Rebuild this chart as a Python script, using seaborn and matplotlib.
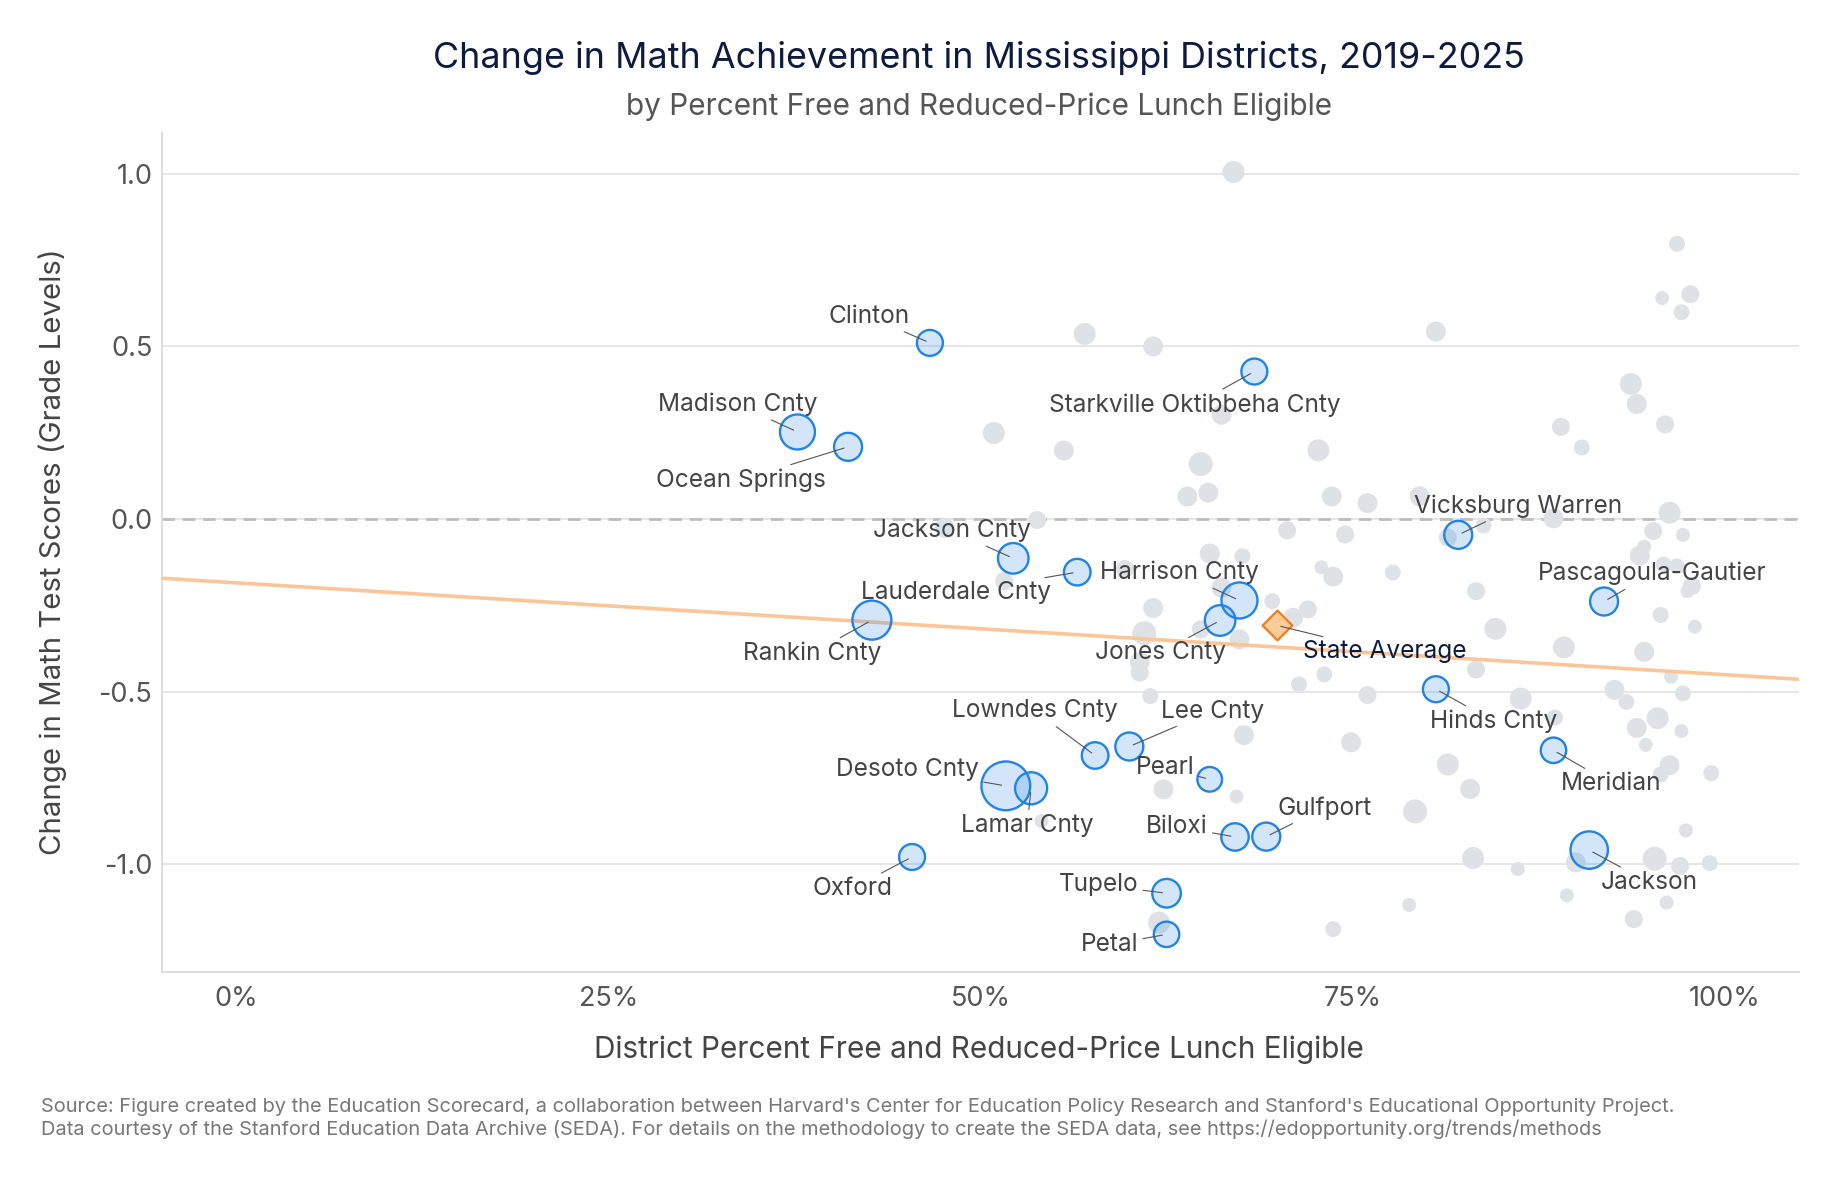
import numpy as np
import pandas as pd
import seaborn as sns
import matplotlib.pyplot as plt
from matplotlib.ticker import FuncFormatter

# ---- data -------------------------------------------------------------
# labelled districts: % FRL eligible, change in grade levels, enrollment (thousands)
names = ["Clinton", "Madison Cnty", "Ocean Springs", "Starkville Oktibbeha Cnty",
         "Jackson Cnty", "Lauderdale Cnty", "Rankin Cnty", "Harrison Cnty",
         "Jones Cnty", "Vicksburg Warren", "Pascagoula-Gautier", "Hinds Cnty",
         "Lowndes Cnty", "Lee Cnty", "Pearl", "Desoto Cnty", "Lamar Cnty",
         "Meridian", "Biloxi", "Gulfport", "Oxford", "Jackson", "Tupelo", "Petal"]
frl = [46.6, 37.7, 41.1, 68.4, 52.2, 56.5, 42.7, 67.4, 66.1, 82.1, 91.9, 80.6,
       57.7, 60.0, 65.4, 51.7, 53.4, 88.5, 67.1, 69.2, 45.4, 90.9, 62.5, 62.5]
change = [0.51, 0.252, 0.209, 0.427, -0.114, -0.154, -0.293, -0.236, -0.294, -0.046,
          -0.239, -0.493, -0.685, -0.659, -0.754, -0.773, -0.78, -0.67, -0.921, -0.92,
          -0.979, -0.959, -1.084, -1.203]
enroll = [8.5, 16.9, 10.2, 8.5, 12.5, 9.0, 21.4, 18.0, 12.5, 10.2, 10.2, 8.5,
          9.0, 10.2, 7.5, 34.5, 13.9, 8.1, 9.7, 10.2, 8.5, 19.6, 10.7, 8.1]

# all other districts
other_frl = [67.0, 57.0, 61.6, 80.6, 66.2, 50.9, 55.6, 64.8, 72.7, 63.9, 65.3, 73.6,
             76.0, 79.5, 53.8, 47.6, 70.6, 74.5, 65.4, 67.6, 72.9, 73.7, 77.7, 59.7,
             51.6, 66.2, 69.6, 72.0, 71.0, 61.6, 64.8, 61.0, 67.4, 60.7, 60.7, 73.1,
             71.4, 61.4, 67.7, 62.3, 67.2, 54.1, 62.0, 73.7, 96.8, 95.8, 97.7, 97.1,
             93.7, 94.1, 96.0, 89.0, 90.4, 81.4, 83.8, 88.5, 96.3, 95.2, 97.2, 94.6,
             94.3, 95.9, 96.8, 83.3, 84.6, 89.2, 94.6, 95.7, 98.0, 97.8, 97.5, 83.3,
             96.4, 76.0, 86.3, 92.6, 93.4, 97.2, 88.6, 95.5, 94.1, 97.1, 94.7, 74.9,
             81.4, 96.3, 95.7, 99.1, 82.9, 79.2, 97.4, 83.1, 86.1, 90.0, 95.3, 97.0,
             99.0, 89.4, 78.8, 96.1, 93.9]
other_change = [1.005, 0.536, 0.5, 0.543, 0.302, 0.249, 0.198, 0.159, 0.199, 0.065,
                0.076, 0.065, 0.046, 0.066, -0.003, -0.026, -0.033, -0.045, -0.1, -0.108,
                -0.14, -0.167, -0.155, -0.145, -0.18, -0.199, -0.238, -0.262, -0.286,
                -0.258, -0.32, -0.331, -0.349, -0.414, -0.445, -0.45, -0.479, -0.513,
                -0.626, -0.783, -0.804, -0.875, -1.169, -1.188, 0.797, 0.64, 0.651,
                0.599, 0.391, 0.333, 0.274, 0.267, 0.207, -0.054, -0.019, 0.002, 0.018,
                -0.035, -0.046, -0.08, -0.106, -0.132, -0.137, -0.209, -0.318, -0.372,
                -0.385, -0.278, -0.312, -0.194, -0.209, -0.436, -0.457, -0.51, -0.52,
                -0.495, -0.53, -0.505, -0.575, -0.577, -0.605, -0.614, -0.654, -0.647,
                -0.711, -0.713, -0.74, -0.736, -0.782, -0.847, -0.902, -0.982, -1.014,
                -0.995, -0.984, -1.005, -0.997, -1.09, -1.118, -1.111, -1.159]
other_enroll = [5.6, 5.6, 4.3, 4.3, 4.3, 5.6, 4.3, 7.0, 5.6, 4.3, 4.3, 4.3,
                4.3, 4.3, 3.2, 4.3, 3.2, 3.2, 4.3, 2.1, 1.2, 4.3, 2.1, 3.2,
                3.2, 4.3, 2.1, 3.2, 4.3, 4.3, 3.2, 7.0, 4.3, 4.3, 3.2, 2.1,
                2.1, 2.1, 4.3, 4.3, 1.2, 1.2, 5.6, 2.1, 2.1, 1.2, 3.2, 2.1,
                5.6, 4.3, 3.2, 3.2, 2.1, 3.2, 2.1, 4.3, 5.6, 3.2, 1.2, 1.2,
                4.3, 2.1, 2.1, 3.2, 5.6, 5.6, 4.3, 2.1, 1.2, 3.2, 1.2, 3.2,
                1.2, 3.2, 5.6, 4.3, 2.1, 2.1, 2.1, 5.6, 4.3, 1.2, 1.2, 4.3,
                5.6, 4.3, 2.1, 2.1, 4.3, 7.0, 1.2, 5.6, 1.2, 4.3, 7.0, 3.2,
                2.1, 1.2, 1.2, 1.2, 3.2]

state_frl = 69.9
state_change = -0.308
fit_intercept = -0.185
fit_slope = -0.00266

yticks = [-1.0, -0.5, 0.0, 0.5, 1.0]
xticks = [0, 25, 50, 75, 100]

# label placement around each point, pixels (dx, dy up)
label_offset = {
    "Clinton": (-61, 20), "Madison Cnty": (-60, 21), "Ocean Springs": (-107, -40),
    "Starkville Oktibbeha Cnty": (-60, -40), "Jackson Cnty": (-61, 21),
    "Lauderdale Cnty": (-121, -27), "Rankin Cnty": (-60, -40), "Harrison Cnty": (-60, 21),
    "Jones Cnty": (-60, -39), "Vicksburg Warren": (60, 22), "Pascagoula-Gautier": (48, 21),
    "Hinds Cnty": (58, -39), "Lowndes Cnty": (-60, 38), "Lee Cnty": (83, 29),
    "Pearl": (-45, 5), "Desoto Cnty": (-98, 10), "Lamar Cnty": (-4, -44),
    "Meridian": (58, -40), "Biloxi": (-58, 4), "Gulfport": (58, 22), "Oxford": (-60, -38),
    "Jackson": (60, -39), "Tupelo": (-68, 2), "Petal": (-57, -17),
}

labelled = pd.DataFrame({"name": names, "frl": frl, "change": change, "enroll": enroll})
others = pd.DataFrame({"frl": other_frl, "change": other_change, "enroll": other_enroll})

# ---- plot -------------------------------------------------------------
sns.set_theme(style="white")
plt.rcParams["font.family"] = ["Inter", "DejaVu Sans"]
plt.rcParams["axes.unicode_minus"] = False

fig = plt.figure(figsize=(18.41, 11.82), dpi=100)
ax = fig.add_axes([0.0880, 0.1777, 0.8892, 0.7098])
ax.set_xlim(-5, 105)
ax.set_ylim(-1.312, 1.118)

size_kw = dict(size="enroll", sizes=(60, 60 + 34 * 40), size_norm=(0, 40), legend=False)

sns.scatterplot(data=others, x="frl", y="change", color="#DEE2E7", edgecolor="none",
                linewidth=0, zorder=2, ax=ax, **size_kw)

xs = np.array(ax.get_xlim())
sns.lineplot(x=xs, y=fit_intercept + fit_slope * xs, color="#FDC597", linewidth=2.6,
             zorder=3, ax=ax)

sns.scatterplot(data=labelled, x="frl", y="change", facecolor=(0.137, 0.514, 0.886, 0.2),
                edgecolor="#2383E2", linewidth=1.7, zorder=4, ax=ax, **size_kw)

sns.scatterplot(x=[state_frl], y=[state_change], marker="D", s=230, facecolor="#FECB9B",
                edgecolor="#F07D1A", linewidth=1.6, zorder=5, ax=ax, legend=False)

ax.axhline(0, color="#BDBDBD", linewidth=2.0, linestyle=(0, (4.5, 2.8)), zorder=1.5)

px = 0.72  # points per pixel at dpi 100
for _, row in labelled.iterrows():
    dx, dy = label_offset[row["name"]]
    ax.annotate(row["name"], xy=(row["frl"], row["change"]), xytext=(dx * px, dy * px),
                textcoords="offset points", ha="center", va="baseline", fontsize=17.6,
                color="#444444", zorder=6,
                arrowprops=dict(arrowstyle="-", color="#555555", lw=0.8, shrinkA=1, shrinkB=3))
ax.annotate("State Average", xy=(state_frl, state_change), xytext=(108 * px, -33 * px),
            textcoords="offset points", ha="center", va="baseline", fontsize=17.6,
            color="#0D1B3E", zorder=6,
            arrowprops=dict(arrowstyle="-", color="#555555", lw=0.8, shrinkA=1, shrinkB=3))

# axes styling
ax.set_yticks(yticks)
ax.set_xticks(xticks)
ax.yaxis.set_major_formatter(FuncFormatter(lambda v, p: f"{v:.1f}"))
ax.xaxis.set_major_formatter(FuncFormatter(lambda v, p: f"{v:.0f}%"))
ax.yaxis.grid(True, color="#E2E2E2", linewidth=1.2)
ax.set_axisbelow(True)
ax.tick_params(axis="both", length=0, labelsize=19.5, labelcolor="#555555")
ax.tick_params(axis="y", pad=7)
ax.tick_params(axis="x", pad=10)
for side in ["top", "right"]:
    ax.spines[side].set_visible(False)
for side in ["left", "bottom"]:
    ax.spines[side].set_color("#DADADA")
    ax.spines[side].set_linewidth(1.3)
ax.set_xlabel("")
ax.set_ylabel("")

fig.text(0.532, 1 - 68 / 1182, "Change in Math Achievement in Mississippi Districts, 2019-2025",
         ha="center", va="baseline", fontsize=25.8, color="#0D1B3E")
fig.text(0.532, 1 - 115 / 1182, "by Percent Free and Reduced-Price Lunch Eligible",
         ha="center", va="baseline", fontsize=21.4, color="#555555")
fig.text(0.532, 1 - 1058 / 1182, "District Percent Free and Reduced-Price Lunch Eligible",
         ha="center", va="baseline", fontsize=21.4, color="#444444")
fig.text(53 / 1841, 1 - 552 / 1182, "Change in Math Test Scores (Grade Levels)",
         ha="center", va="center", rotation=90, fontsize=21.2, color="#444444")
fig.text(41 / 1841, 1 - 1112 / 1182,
         "Source: Figure created by the Education Scorecard, a collaboration between Harvard's "
         "Center for Education Policy Research and Stanford's Educational Opportunity Project.",
         ha="left", va="baseline", fontsize=14.4, color="#777777")
fig.text(41 / 1841, 1 - 1135 / 1182,
         "Data courtesy of the Stanford Education Data Archive (SEDA). For details on the "
         "methodology to create the SEDA data, see https://edopportunity.org/trends/methods",
         ha="left", va="baseline", fontsize=14.4, color="#777777")

fig.savefig("out.png", dpi=100)
